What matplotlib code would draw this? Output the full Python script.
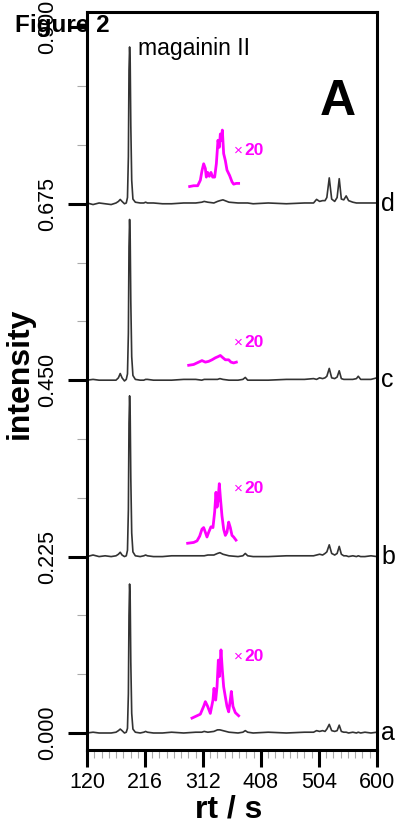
import matplotlib.pyplot as plt
from matplotlib.ticker import MultipleLocator
import matplotlib.transforms as mtransforms

plt.rcParams['font.family'] = ['Liberation Sans', 'DejaVu Sans']

# chromatograms, intensity above each trace's own baseline
rt = [120, 130, 140, 150, 160, 168, 172, 175, 178, 182, 185, 187, 188.5, 189.5,
      190.5, 191.5, 192.5, 194, 196, 200, 208, 214, 217, 220, 230, 245, 260, 280,
      300, 310, 314, 320, 330, 336, 340, 345, 355, 370, 378, 382, 386, 395, 420,
      450, 480, 495, 500, 505, 510, 514, 517, 521, 525, 530, 534, 537.5, 541, 545,
      549, 553, 560, 566, 569, 573, 580, 590, 600]

trace_a = [0.000, 0.001, 0.000, 0.000, 0.000, 0.001, 0.003, 0.005, 0.003, 0.000,
           0.001, 0.006, 0.050, 0.150, 0.190, 0.170, 0.090, 0.025, 0.005, 0.001,
           0.000, 0.001, 0.002, 0.001, 0.000, 0.000, 0.001, 0.000, 0.001, 0.001,
           0.002, 0.001, 0.002, 0.004, 0.004, 0.003, 0.001, 0.000, 0.001, 0.003,
           0.001, 0.000, 0.001, 0.000, 0.001, 0.001, 0.003, 0.002, 0.003, 0.002,
           0.005, 0.011, 0.003, 0.002, 0.003, 0.010, 0.002, 0.001, 0.001, 0.000,
           0.001, 0.000, 0.001, 0.000, 0.001, 0.000, 0.001]

trace_b = [0.000, 0.002, 0.000, 0.001, 0.000, 0.001, 0.003, 0.0055, 0.002, 0.000,
           0.001, 0.008, 0.060, 0.170, 0.205, 0.180, 0.100, 0.030, 0.006, 0.001,
           0.000, 0.001, 0.002, 0.001, 0.000, 0.000, 0.001, 0.001, 0.001, 0.001,
           0.001, 0.002, 0.002, 0.004, 0.005, 0.003, 0.001, 0.000, 0.001, 0.004,
           0.001, 0.000, 0.000, 0.001, 0.001, 0.001, 0.002, 0.003, 0.002, 0.004,
           0.006, 0.015, 0.004, 0.002, 0.004, 0.013, 0.003, 0.001, 0.001, 0.000,
           0.001, 0.000, 0.001, 0.000, 0.000, 0.001, 0.000]

trace_c = [0.000, 0.001, 0.000, 0.000, 0.000, 0.000, 0.003, 0.0085, 0.003, -0.001,
           0.001, 0.008, 0.060, 0.170, 0.205, 0.180, 0.100, 0.030, 0.006, 0.001,
           0.000, 0.000, 0.001, 0.001, 0.000, 0.000, 0.000, 0.001, 0.001, 0.000,
           0.001, 0.001, 0.001, 0.001, 0.002, 0.001, 0.000, 0.000, 0.001, 0.0035,
           0.000, 0.000, 0.000, 0.001, 0.001, 0.002, 0.001, 0.003, 0.002, 0.003,
           0.005, 0.015, 0.003, 0.002, 0.004, 0.012, 0.002, 0.001, 0.001, 0.001,
           0.001, 0.002, 0.005, 0.001, 0.001, 0.001, 0.003]

trace_d = [0.001, -0.001, 0.001, 0.000, -0.001, 0.001, 0.003, 0.0055, 0.003, 0.000,
           0.001, 0.008, 0.060, 0.170, 0.200, 0.180, 0.100, 0.030, 0.006, 0.002,
           0.001, 0.001, 0.002, 0.001, 0.001, 0.000, 0.000, 0.001, 0.001, 0.002,
           0.003, 0.002, 0.001, 0.003, 0.004, 0.005, 0.002, 0.001, 0.001, 0.001,
           0.001, 0.000, 0.001, 0.000, 0.001, 0.001, 0.0056, 0.003, 0.004, 0.004,
           0.008, 0.033, 0.006, 0.003, 0.008, 0.032, 0.006, 0.005, 0.010, 0.004,
           0.002, 0.001, 0.001, 0.001, 0.001, 0.001, 0.001]

# x20 magnified windows (drawn above each trace)
mag_rt_a = [293.8, 302.1, 307.6, 313.1, 315.9, 319.7, 324.1, 328.5, 330.2, 333.0,
            335.2, 337.4, 339.0, 341.8, 344.0, 346.2, 349.0, 351.7, 354.5, 357.2,
            358.9, 361.6, 365.5, 371.0]
mag_a = [0.019, 0.022, 0.024, 0.034, 0.040, 0.034, 0.025, 0.042, 0.057, 0.042,
         0.059, 0.093, 0.072, 0.106, 0.080, 0.059, 0.046, 0.034, 0.027, 0.042,
         0.053, 0.034, 0.026, 0.022]

mag_rt_b = [286.6, 296.5, 302.1, 306.5, 310.3, 313.1, 315.9, 318.6, 321.4, 325.2,
            328.5, 331.3, 333.5, 335.2, 336.8, 339.0, 340.7, 343.4, 346.2, 349.0,
            351.7, 354.5, 357.2, 360.0, 362.7, 366.6]
mag_b = [0.017, 0.018, 0.020, 0.026, 0.035, 0.037, 0.031, 0.025, 0.031, 0.038,
         0.037, 0.057, 0.082, 0.063, 0.071, 0.093, 0.076, 0.052, 0.035, 0.027,
         0.031, 0.044, 0.037, 0.027, 0.025, 0.021]

mag_rt_c = [288.3, 296.5, 304.8, 310.3, 315.9, 321.4, 326.9, 332.4, 336.8, 340.7,
            345.1, 349.0, 354.5, 358.3, 362.7, 367.2]
mag_c = [0.019, 0.020, 0.023, 0.025, 0.023, 0.024, 0.026, 0.0285, 0.030, 0.0315,
         0.0285, 0.026, 0.026, 0.023, 0.022, 0.023]

mag_rt_d = [289.9, 296.5, 303.2, 307.6, 310.3, 313.1, 315.9, 317.5, 319.7, 322.5,
            325.2, 328.0, 331.3, 334.1, 336.8, 339.0, 340.7, 342.3, 344.0, 346.2,
            349.0, 351.7, 356.1, 360.0, 362.7, 367.2, 371.0]
mag_d = [0.022, 0.023, 0.023, 0.030, 0.042, 0.051, 0.045, 0.034, 0.040, 0.035,
         0.040, 0.034, 0.034, 0.051, 0.081, 0.072, 0.089, 0.081, 0.094, 0.064,
         0.055, 0.043, 0.036, 0.028, 0.025, 0.026, 0.026]

offsets = [0.0, 0.225, 0.45, 0.675]
names = ['a', 'b', 'c', 'd']
x20_y = [0.097, 0.087, 0.0485, 0.068]
xticks = [120, 216, 312, 408, 504, 600]
yticks = [0.0, 0.225, 0.45, 0.675, 0.9]
ytick_labels = ['0.000', '0.225', '0.450', '0.675', '0.900']

traces = [trace_a, trace_b, trace_c, trace_d]
mags = [(mag_rt_a, mag_a), (mag_rt_b, mag_b), (mag_rt_c, mag_c), (mag_rt_d, mag_d)]

fig = plt.figure(figsize=(3.98, 8.27), dpi=100)
ax = fig.add_axes([0.2186, 0.0931, 0.7286, 0.8924])
trans = mtransforms.blended_transform_factory(ax.transAxes, ax.transData)

for tr, (mx, my), off, nm, ty in zip(traces, mags, offsets, names, x20_y):
    ax.plot(rt, [v + off for v in tr], color='#333333', lw=1.2)
    ax.plot(mx, [v + off for v in my], color='#ff00ff', lw=2.0)
    ax.text(363.5, off + ty, '\u00d7', color='#ff00ff', fontsize=11, va='center')
    ax.text(381, off + ty, '20', color='#ff00ff', fontsize=12.5, fontweight='bold',
            va='center')
    ax.text(1.014, off, nm, transform=trans, fontsize=18, va='center', ha='left')

ax.set_xlim(120, 600)
ax.set_ylim(-0.0217, 0.9196)

ax.set_xticks(xticks)
ax.xaxis.set_minor_locator(MultipleLocator(12))
ax.set_yticks(yticks)
ax.set_yticklabels(ytick_labels)
ax.yaxis.set_minor_locator(MultipleLocator(0.075))

for s in ax.spines.values():
    s.set_linewidth(2.2)

ax.tick_params(axis='both', which='major', direction='out', width=2.2,
               labelsize=15.5, color='black')
ax.tick_params(axis='x', which='major', length=12, pad=4)
ax.tick_params(axis='y', which='major', length=14, pad=7, labelrotation=90)
ax.tick_params(axis='x', which='minor', direction='out', length=6, width=0.8,
               color='#aaaaaa')
ax.tick_params(axis='y', which='minor', direction='out', length=7, width=0.8,
               color='#aaaaaa')
for lab in ax.get_yticklabels():
    lab.set_va('center')

ax.text(204.4, 0.865, 'magainin II', fontsize=16.5, va='baseline', ha='left')
ax.text(534.7, 0.788, 'A', fontsize=36, fontweight='bold', va='baseline', ha='center')

fig.text(15 / 398, 1 - 32 / 827, 'Figure 2', fontsize=17.5, fontweight='bold',
         va='baseline', ha='left')
fig.text(20 / 398, 1 - 373.5 / 827, 'intensity', fontsize=23, fontweight='bold',
         rotation=90, va='center', ha='center')
fig.text(229 / 398, 1 - 810 / 827, 'rt / s', fontsize=23, fontweight='bold',
         va='center', ha='center')

fig.savefig('out.png', dpi=100)
